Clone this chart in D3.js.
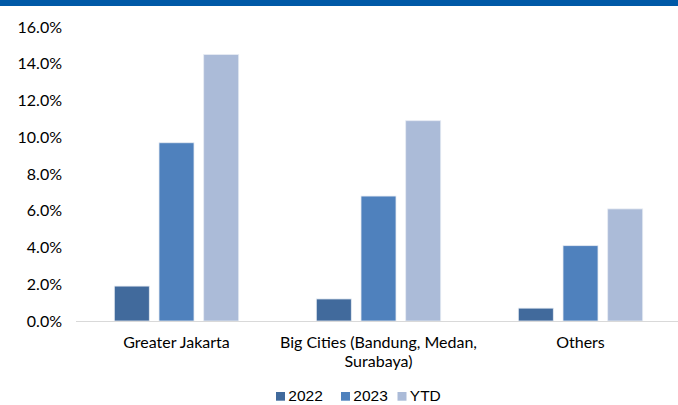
<!DOCTYPE html>
<html>
<head>
<meta charset="utf-8">
<script src="https://cdn.jsdelivr.net/npm/d3@7.9.0/dist/d3.min.js"></script>
<style>
  body { margin: 0; background: #fff; }
  svg { display: block; }
</style>
</head>
<body>
<svg id="chart" width="678" height="405"></svg>
<script>
const categories = ['Greater Jakarta', 'Big Cities (Bandung, Medan, Surabaya)', 'Others'];
const seriesNames = ['2022', '2023', 'YTD'];
const values2022 = [1.9, 1.2, 0.7];
const values2023 = [9.7, 6.8, 4.1];
const valuesYTD = [14.5, 10.9, 6.1];
const yTicks = [0, 2, 4, 6, 8, 10, 12, 14, 16];
const colors = ['#416a9c', '#4f81bd', '#abbbd8'];

const seriesValues = [values2022, values2023, valuesYTD];
const data = categories.map((c, i) => ({
  category: c,
  values: seriesNames.map((s, j) => ({ series: s, value: seriesValues[j][i] }))
}));

const svg = d3.select('#chart');

// top rule
svg.append('rect')
  .attr('x', 0).attr('y', 0)
  .attr('width', 678).attr('height', 6)
  .attr('fill', '#0059a7');

const x = d3.scaleBand()
  .domain(categories)
  .range([75.5, 681.5]);

const xInner = d3.scaleBand()
  .domain(seriesNames)
  .range([0, x.bandwidth()])
  .paddingInner(0.217)
  .paddingOuter(0.868);

const y = d3.scaleLinear()
  .domain([0, 16])
  .range([321, 27]);

// y tick labels
svg.append('g')
  .selectAll('text')
  .data(yTicks)
  .join('text')
  .attr('x', 62)
  .attr('y', d => y(d))
  .attr('dy', '0.35em')
  .attr('text-anchor', 'end')
  .attr('font-family', 'Lato, sans-serif')
  .attr('font-size', 16)
  .attr('fill', '#000')
  .text(d => d.toFixed(1) + '%');

// bars
const groups = svg.append('g')
  .selectAll('g')
  .data(data)
  .join('g')
  .attr('transform', d => `translate(${x(d.category)},0)`);

groups.selectAll('rect')
  .data(d => d.values)
  .join('rect')
  .attr('x', d => xInner(d.series))
  .attr('y', d => y(d.value))
  .attr('width', xInner.bandwidth())
  .attr('height', d => y(0) - y(d.value))
  .attr('fill', (d, i) => colors[i])
  .attr('stroke', '#e6ebf3')
  .attr('stroke-width', 0.8);

// baseline
svg.append('line')
  .attr('x1', 76).attr('x2', 678)
  .attr('y1', y(0) + 0.5).attr('y2', y(0) + 0.5)
  .attr('stroke', '#d9d9d9')
  .attr('stroke-width', 1.2);

// category labels (wrapped)
const wrapLines = {
  'Big Cities (Bandung, Medan, Surabaya)': ['Big Cities (Bandung, Medan,', 'Surabaya)']
};
svg.append('g')
  .selectAll('text')
  .data(categories)
  .join('text')
  .attr('x', d => x(d) + x.bandwidth() / 2)
  .attr('y', 347.5)
  .attr('text-anchor', 'middle')
  .attr('font-family', 'Lato, sans-serif')
  .attr('font-size', 16)
  .attr('fill', '#000')
  .each(function (d) {
    const lines = wrapLines[d] || [d];
    d3.select(this).selectAll('tspan')
      .data(lines)
      .join('tspan')
      .attr('x', x(d) + x.bandwidth() / 2)
      .attr('dy', (l, i) => i === 0 ? 0 : 19.5)
      .text(l => l);
  });

// legend
const legendX = [276, 341, 397.5];
const legend = svg.append('g')
  .selectAll('g')
  .data(seriesNames)
  .join('g')
  .attr('transform', (d, i) => `translate(${legendX[i]},392)`);

legend.append('rect')
  .attr('width', 9).attr('height', 8.7)
  .attr('fill', (d, i) => colors[i]);

legend.append('text')
  .attr('x', 12.3)
  .attr('y', 9)
  .attr('font-family', '"Liberation Sans", Arial, sans-serif')
  .attr('font-size', 15.5)
  .attr('fill', '#000')
  .text(d => d);
</script>
</body>
</html>
